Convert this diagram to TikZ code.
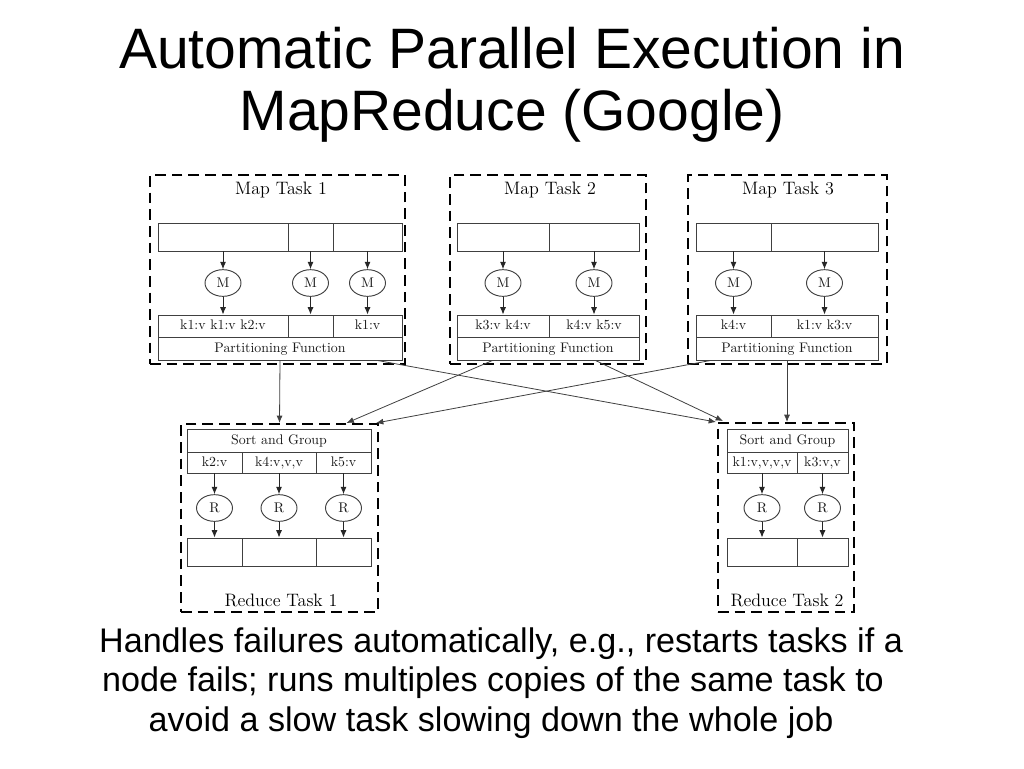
\documentclass[tikz,border=0pt]{standalone}
\usepackage{fontspec}
\newfontfamily\arialf{Liberation Sans}
\usetikzlibrary{fit,shapes.geometric,arrows.meta,calc}
\begin{document}
\begin{tikzpicture}[x=0.75pt,y=-0.75pt,
 taskbox/.style={draw=black, line width=1.5pt, dash pattern=on 8pt off 4.5pt, inner sep=0pt},
 cell/.style={draw=black!75, line width=0.7pt, inner sep=0pt},
 lbl/.style={font=\fontsize{10.4}{12}\selectfont, text=black!90, inner sep=0pt, text height=1.6ex, text depth=0.3ex, anchor=center},
 ttl/.style={font=\fontsize{13.5}{16}\selectfont, text=black, inner sep=0pt},
 mnode/.style={draw=black!75, line width=0.7pt, ellipse, minimum width=27pt, minimum height=20pt, inner sep=0pt, font=\fontsize{10.5}{12}\selectfont, text=black!90},
 arr/.style={draw=black!85, line width=0.7pt, -{Latex[length=5.5pt,width=4.5pt]}},
 xarr/.style={draw=black!75, line width=0.6pt, -{Latex[length=5.5pt,width=4.5pt]}},
 head/.style={font=\arialf\fontsize{42.75}{50}\selectfont, anchor=base, inner sep=0pt},
 body/.style={font=\arialf\fontsize{25.6}{30}\selectfont, anchor=base, inner sep=0pt}]
\useasboundingbox (0,0) rectangle (1024,768);
\fill[white] (0,0) rectangle (1024,768);

% Title
\node[head] (h1) at (512,68) {Automatic Parallel Execution in};
\node[head] (h2) at (512,130) {MapReduce (Google)};

% ---------- Map Task 1 ----------
\node[taskbox, fit={(150,175) (405,364)}] (map1) {};
\node[ttl] (mt1) at (281,190) {Map Task 1};
\node[cell, fit={(158,223) (288,251)}] (i11) {};
\node[cell, fit={(288,223) (333,251)}] (i12) {};
\node[cell, fit={(333,223) (402,251)}] (i13) {};
\node[mnode] (m11) at (223,283) {M};
\node[mnode] (m12) at (310.5,283) {M};
\node[mnode] (m13) at (367.5,283) {M};
\node[cell, fit={(158,315) (288,337)}] (o11) {};
\node[cell, fit={(288,315) (333,337)}] (o12) {};
\node[cell, fit={(333,315) (402,337)}] (o13) {};
\node[cell, fit={(158,337) (402,360)}] (p1) {};
\node[lbl] (lo11) at (o11.center) {k1:v k1:v k2:v};
\node[lbl] (lo13) at (o13.center) {k1:v};
\node[lbl] (lp1) at (p1.center) {Partitioning Function};
\foreach \k in {1,2,3}{
  \draw[arr] (i1\k.south) -- (m1\k.north);
  \draw[arr] (m1\k.south) -- (o1\k.north);
}

% ---------- Map Task 2 ----------
\node[taskbox, fit={(450,175) (646,364)}] (map2) {};
\node[ttl] (mt2) at (550,190) {Map Task 2};
\node[cell, fit={(457,223) (549,251)}] (i21) {};
\node[cell, fit={(549,223) (639,251)}] (i22) {};
\node[mnode] (m21) at (503,283) {M};
\node[mnode] (m22) at (594,283) {M};
\node[cell, fit={(457,315) (549,337)}] (o21) {};
\node[cell, fit={(549,315) (639,337)}] (o22) {};
\node[cell, fit={(457,337) (639,360)}] (p2) {};
\node[lbl] (lo21) at (o21.center) {k3:v k4:v};
\node[lbl] (lo22) at (o22.center) {k4:v k5:v};
\node[lbl] (lp2) at (p2.center) {Partitioning Function};
\foreach \k in {1,2}{
  \draw[arr] (i2\k.south) -- (m2\k.north);
  \draw[arr] (m2\k.south) -- (o2\k.north);
}

% ---------- Map Task 3 ----------
\node[taskbox, fit={(688,175) (887,364)}] (map3) {};
\node[ttl] (mt3) at (788,190) {Map Task 3};
\node[cell, fit={(696,223) (771,251)}] (i31) {};
\node[cell, fit={(771,223) (878,251)}] (i32) {};
\node[mnode] (m31) at (733.5,283) {M};
\node[mnode] (m32) at (824.5,283) {M};
\node[cell, fit={(696,315) (771,337)}] (o31) {};
\node[cell, fit={(771,315) (878,337)}] (o32) {};
\node[cell, fit={(696,337) (878,360)}] (p3) {};
\node[lbl] (lo31) at (o31.center) {k4:v};
\node[lbl] (lo32) at (o32.center) {k1:v k3:v};
\node[lbl] (lp3) at (p3.center) {Partitioning Function};
\foreach \k in {1,2}{
  \draw[arr] (i3\k.south) -- (m3\k.north);
  \draw[arr] (m3\k.south) -- (o3\k.north);
}

% ---------- Reduce Task 1 ----------
\node[taskbox, fit={(181,424) (378,612)}] (red1) {};
\node[cell, fit={(187,429) (371,452)}] (s1) {};
\node[cell, fit={(187,452) (242,473)}] (k11) {};
\node[cell, fit={(242,452) (316,473)}] (k12) {};
\node[cell, fit={(316,452) (371,473)}] (k13) {};
\node[lbl] (ls1) at (s1.center) {Sort and Group};
\node[lbl] (lk11) at (k11.center) {k2:v};
\node[lbl] (lk12) at (k12.center) {k4:v,v,v};
\node[lbl] (lk13) at (k13.center) {k5:v};
\node[mnode] (r11) at (214.5,508) {R};
\node[mnode] (r12) at (279,508) {R};
\node[mnode] (r13) at (343.5,508) {R};
\node[cell, fit={(187,538) (242,566)}] (q11) {};
\node[cell, fit={(242,538) (316,566)}] (q12) {};
\node[cell, fit={(316,538) (371,566)}] (q13) {};
\node[ttl] (rt1) at (281,600) {Reduce Task 1};
\foreach \k in {1,2,3}{
  \draw[arr] (k1\k.south) -- (r1\k.north);
  \draw[arr] (r1\k.south) -- (q1\k.north);
}

% ---------- Reduce Task 2 ----------
\node[taskbox, fit={(718,423) (854,612)}] (red2) {};
\node[cell, fit={(727,429) (848,452)}] (s2) {};
\node[cell, fit={(727,452) (797,473)}] (k21) {};
\node[cell, fit={(797,452) (848,473)}] (k22) {};
\node[lbl] (ls2) at (s2.center) {Sort and Group};
\node[lbl] (lk21) at (k21.center) {k1:v,v,v,v};
\node[lbl] (lk22) at (k22.center) {k3:v,v};
\node[mnode] (r21) at (762,508) {R};
\node[mnode] (r22) at (822.5,508) {R};
\node[cell, fit={(727,538) (797,566)}] (q21) {};
\node[cell, fit={(797,538) (848,566)}] (q22) {};
\node[ttl] (rt2) at (787,600) {Reduce Task 2};
\foreach \k in {1,2}{
  \draw[arr] (k2\k.south) -- (r2\k.north);
  \draw[arr] (r2\k.south) -- (q2\k.north);
}

% ---------- Shuffle connectors ----------
\draw[xarr] (p1.south) -- (red1.north);
\draw[xarr] ($(p1.south east)+(-25,0)$) -- ($(red2.north west)+(-1,0)$);
\draw[xarr] ($(p2.south west)+(36,0)$) -- ($(red1.north)+(67,0)$);
\draw[xarr] ($(p2.south east)+(-44,0)$) -- ($(red2.north west)+(6,-1)$);
\draw[xarr] ($(p3.south west)+(15,0)$) -- ($(red1.north east)+(-3,0)$);
\draw[xarr] (p3.south) -- (red2.north -| p3.south);

% Bottom text
\node[body] (b1) at (501,652) {Handles failures automatically, e.g., restarts tasks if a};
\node[body] (b2) at (493,691) {node fails; runs multiples copies of the same task to};
\node[body] (b3) at (491,731) {avoid a slow task slowing down the whole job};
\end{tikzpicture}
\end{document}
